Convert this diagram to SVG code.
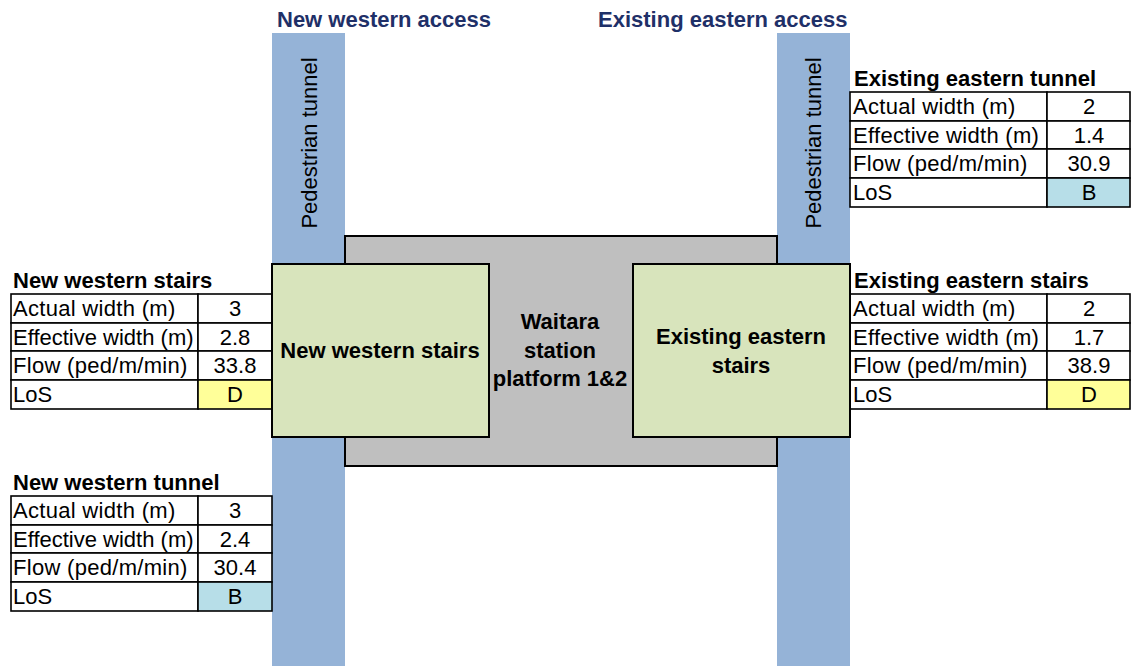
<svg xmlns="http://www.w3.org/2000/svg" width="1132" height="666" viewBox="0 0 1132 666">
<style>
.t{font-family:"Liberation Sans",Arial,sans-serif;font-size:22px;fill:#000}
.b{font-weight:bold}
.c{text-anchor:middle}
.ls{letter-spacing:0.3px}
.acc{font-family:"Liberation Sans",Arial,sans-serif;font-size:22px;font-weight:bold;fill:#1f3068}
.tun{fill:#95b3d7}
.plat{fill:#bfbfbf;stroke:#000;stroke-width:2}
.stair{fill:#d8e4bc;stroke:#000;stroke-width:2}
.cell{fill:#fff;stroke:#000;stroke-width:1.6}
.yel{fill:#ffff99;stroke:#000;stroke-width:1.6}
.blu{fill:#b7dee8;stroke:#000;stroke-width:1.6}
</style>
<rect width="1132" height="666" fill="#fff"/>

<g id="western-tunnel">
<rect class="tun" x="272" y="33" width="73" height="633"/>
<text class="t c" transform="translate(317,143) rotate(-90)">Pedestrian tunnel</text>
</g>
<g id="eastern-tunnel">
<rect class="tun" x="777" y="33" width="73" height="633"/>
<text class="t c" transform="translate(821,143) rotate(-90)">Pedestrian tunnel</text>
</g>
<g id="access-labels">
<text class="acc" x="277" y="27">New western access</text>
<text class="acc" x="598" y="27">Existing eastern access</text>
</g>

<g id="platform">
<rect class="plat" x="345" y="236" width="432" height="230"/>
<text class="t b c" x="560" y="329">Waitara</text>
<text class="t b c" x="560" y="358">station</text>
<text class="t b c" x="560" y="386">platform 1&amp;2</text>
</g>

<g id="table-west-stairs">
<text class="t b" x="13" y="288">New western stairs</text>
<rect class="cell" x="11" y="294" width="187" height="29"/><rect class="cell" x="198" y="294" width="74" height="29"/>
<rect class="cell" x="11" y="323" width="187" height="28"/><rect class="cell" x="198" y="323" width="74" height="28"/>
<rect class="cell" x="11" y="351" width="187" height="29"/><rect class="cell" x="198" y="351" width="74" height="29"/>
<rect class="cell" x="11" y="380" width="187" height="29"/><rect class="yel" x="198" y="380" width="74" height="29"/>
<text class="t ls" x="13" y="316">Actual width (m)</text><text class="t c" x="235" y="316">3</text>
<text class="t" x="13" y="345">Effective width (m)</text><text class="t c" x="235" y="345">2.8</text>
<text class="t ls" x="13" y="373">Flow (ped/m/min)</text><text class="t c" x="235" y="373">33.8</text>
<text class="t" x="13" y="402">LoS</text><text class="t c" x="235" y="402">D</text>
</g>

<g id="table-west-tunnel">
<text class="t b" x="13" y="490">New western tunnel</text>
<rect class="cell" x="11" y="496" width="187" height="29"/><rect class="cell" x="198" y="496" width="74" height="29"/>
<rect class="cell" x="11" y="525" width="187" height="28"/><rect class="cell" x="198" y="525" width="74" height="28"/>
<rect class="cell" x="11" y="553" width="187" height="29"/><rect class="cell" x="198" y="553" width="74" height="29"/>
<rect class="cell" x="11" y="582" width="187" height="29"/><rect class="blu" x="198" y="582" width="74" height="29"/>
<text class="t ls" x="13" y="518">Actual width (m)</text><text class="t c" x="235" y="518">3</text>
<text class="t" x="13" y="547">Effective width (m)</text><text class="t c" x="235" y="547">2.4</text>
<text class="t ls" x="13" y="575">Flow (ped/m/min)</text><text class="t c" x="235" y="575">30.4</text>
<text class="t" x="13" y="604">LoS</text><text class="t c" x="235" y="604">B</text>
</g>

<g id="table-east-tunnel">
<text class="t b" x="854" y="86">Existing eastern tunnel</text>
<rect class="cell" x="850" y="92" width="197" height="29"/><rect class="cell" x="1047" y="92" width="83" height="29"/>
<rect class="cell" x="850" y="121" width="197" height="28"/><rect class="cell" x="1047" y="121" width="83" height="28"/>
<rect class="cell" x="850" y="149" width="197" height="29"/><rect class="cell" x="1047" y="149" width="83" height="29"/>
<rect class="cell" x="850" y="178" width="197" height="29"/><rect class="blu" x="1047" y="178" width="83" height="29"/>
<text class="t ls" x="853" y="114">Actual width (m)</text><text class="t c" x="1089" y="114">2</text>
<text class="t ls" x="853" y="143">Effective width (m)</text><text class="t c" x="1089" y="143">1.4</text>
<text class="t ls" x="853" y="171">Flow (ped/m/min)</text><text class="t c" x="1089" y="171">30.9</text>
<text class="t" x="853" y="200">LoS</text><text class="t c" x="1089" y="200">B</text>
</g>

<g id="table-east-stairs">
<text class="t b" x="854" y="288">Existing eastern stairs</text>
<rect class="cell" x="850" y="294" width="197" height="29"/><rect class="cell" x="1047" y="294" width="83" height="29"/>
<rect class="cell" x="850" y="323" width="197" height="28"/><rect class="cell" x="1047" y="323" width="83" height="28"/>
<rect class="cell" x="850" y="351" width="197" height="29"/><rect class="cell" x="1047" y="351" width="83" height="29"/>
<rect class="cell" x="850" y="380" width="197" height="29"/><rect class="yel" x="1047" y="380" width="83" height="29"/>
<text class="t ls" x="853" y="316">Actual width (m)</text><text class="t c" x="1089" y="316">2</text>
<text class="t ls" x="853" y="345">Effective width (m)</text><text class="t c" x="1089" y="345">1.7</text>
<text class="t ls" x="853" y="373">Flow (ped/m/min)</text><text class="t c" x="1089" y="373">38.9</text>
<text class="t" x="853" y="402">LoS</text><text class="t c" x="1089" y="402">D</text>
</g>

<g id="western-stairs">
<rect class="stair" x="272" y="264" width="217" height="173"/>
<text class="t b c" x="380" y="358">New western stairs</text>
</g>
<g id="eastern-stairs">
<rect class="stair" x="633" y="264" width="217" height="173"/>
<text class="t b c" x="741" y="344">Existing eastern</text>
<text class="t b c" x="741" y="373">stairs</text>
</g>
<g id="connectors"></g>
</svg>
